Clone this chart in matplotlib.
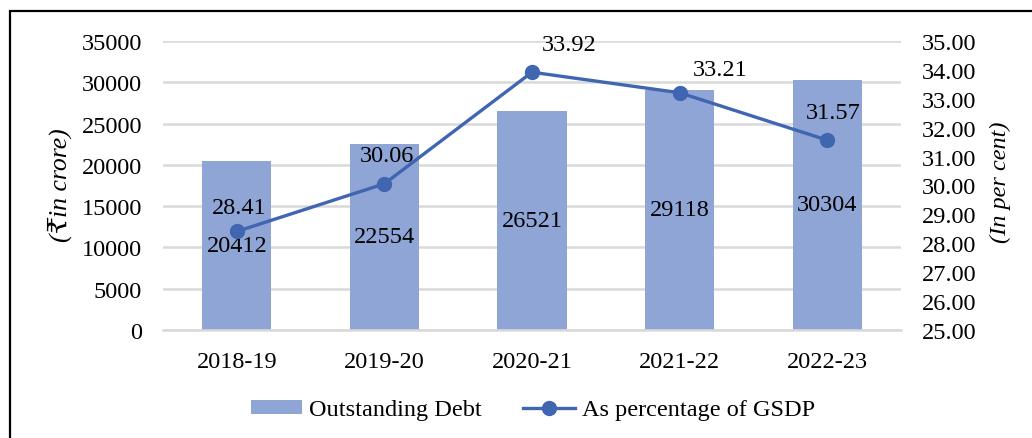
import matplotlib.pyplot as plt
from matplotlib.patches import Rectangle
from matplotlib.ticker import FormatStrFormatter

# Data
years = ["2018-19", "2019-20", "2020-21", "2021-22", "2022-23"]
debt = [20412, 22554, 26521, 29118, 30304]
pct_gsdp = [28.41, 30.06, 33.92, 33.21, 31.57]

# label offsets (points) for line labels, as in the original layout
pct_offsets = [(1.5, 17), (2, 20), (27, 20), (29, 17), (4, 20)]

BAR = '#8EA5D6'
LINE = '#4065B1'
GRID = '#D9D9D9'
FONT = ['Liberation Serif', 'DejaVu Serif', 'DejaVu Sans']
FS = 17.5

plt.rcParams['font.family'] = FONT

fig = plt.figure(figsize=(10.32, 4.39), dpi=100)
ax = fig.add_axes([163 / 1032, 1 - 331 / 439, 738 / 1032, 289 / 439])
ax2 = ax.twinx()

x = list(range(len(years)))
bars = ax.bar(x, debt, width=0.47, color=BAR, zorder=2, label='Outstanding Debt')
ax.set_xlim(-0.5, len(years) - 0.5)
ax.set_ylim(0, 35000)
ax.set_yticks(range(0, 35001, 5000))
ax.grid(axis='y', color=GRID, linewidth=1.8, zorder=0)
ax.set_axisbelow(True)
ax.set_xticks(x)
ax.set_xticklabels(years)
ax.tick_params(axis='both', length=0, labelsize=FS)
ax.tick_params(axis='y', pad=15)
ax.tick_params(axis='x', pad=15)
for s in ax.spines.values():
    s.set_visible(False)
ax.spines['bottom'].set_visible(True)
ax.spines['bottom'].set_color(GRID)
ax.spines['bottom'].set_linewidth(1.8)

for i, v in enumerate(debt):
    ax.text(i, v / 2, str(v), ha='center', va='center', fontsize=FS, zorder=3)

ln, = ax2.plot(x, pct_gsdp, color=LINE, linewidth=2.4, marker='o',
               markersize=10, zorder=5, label='As percentage of GSDP')
ax2.set_ylim(25, 35)
ax2.set_yticks(range(25, 36))
ax2.yaxis.set_major_formatter(FormatStrFormatter('%.2f'))
ax2.tick_params(axis='y', length=0, labelsize=FS, pad=15)
for s in ax2.spines.values():
    s.set_visible(False)
for i, v in enumerate(pct_gsdp):
    ax2.annotate(f"{v:.2f}", (i, v), xytext=pct_offsets[i], textcoords='offset points',
                 ha='center', va='center', fontsize=FS)

ax.set_zorder(ax2.get_zorder() - 1)
ax.patch.set_visible(False)

fig.text(60 / 1032, 1 - 185 / 439, "(₹in crore)", rotation=90, style='italic',
         fontsize=FS + 1, ha='center', va='center', family=FONT)
fig.text(1000 / 1032, 1 - 182 / 439, "(In per cent)", rotation=90, style='italic',
         fontsize=FS, ha='center', va='center')

fig.legend([bars, ln], ['Outstanding Debt', 'As percentage of GSDP'],
           loc='center', bbox_to_anchor=(533 / 1032, 1 - 411 / 439), ncol=2,
           frameon=False, fontsize=FS, handlelength=2.1, handletextpad=0.3,
           columnspacing=1.7, handleheight=0.55)

fig.patches.append(Rectangle((10 / 1032, -0.1), 2, 1.1 - 12 / 439, transform=fig.transFigure,
                             fill=False, edgecolor='black', linewidth=1.6))

fig.savefig('out.png', dpi=100)
